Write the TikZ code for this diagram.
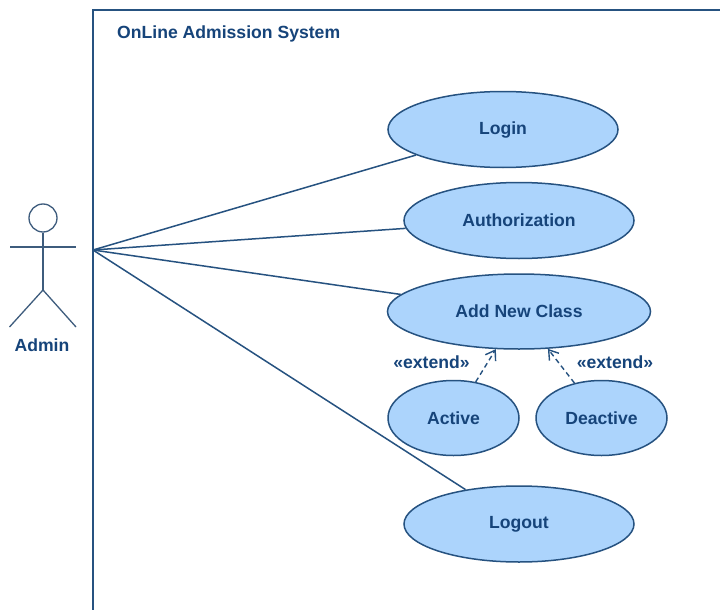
\documentclass[tikz,border=0pt]{standalone}
\usepackage{fontspec}
\setmainfont{Liberation Sans}
\usetikzlibrary{arrows.meta,shapes.geometric}
\definecolor{ln}{RGB}{38,82,128}
\definecolor{fl}{RGB}{172,212,252}
\definecolor{tx}{RGB}{22,68,122}
\definecolor{ac}{RGB}{62,92,125}
\tikzset{x=1pt,y=-1pt,
 usecase/.style={draw=ln,fill=fl,ellipse,line width=1.5pt,inner sep=0pt,text=tx,font=\bfseries\fontsize{17.6}{20}\selectfont},
 lab/.style={text=tx,font=\bfseries\fontsize{17.6}{20}\selectfont,inner sep=0pt},
 assoc/.style={draw=ln,line width=1.5pt},
 frameline/.style={draw=ln,line width=2pt},
 ext/.style={draw=ln,line width=1.4pt,dash pattern=on 5pt off 3.5pt,-{Straight Barb[length=9pt,width=12pt]}},
 actor/.style={draw=ac,line width=1.3pt}}
\begin{document}
\begin{tikzpicture}
\useasboundingbox (0,0) rectangle (720,610);
\fill[white] (0,0) rectangle (720,610);
\coordinate (tl) at (93,610);
\coordinate (tb) at (93,10);
\coordinate (tr) at (720,10);
\draw[frameline] (tl) -- (tb) -- (tr);
\node[lab,anchor=west] (title) at (117,34) {OnLine Admission System};
\coordinate (hub) at (93,250);
\node[usecase,minimum width=230pt,minimum height=76pt] (login) at (503,129.5) {Login};
\node[usecase,minimum width=230pt,minimum height=76pt] (auth) at (519,220.5) {Authorization};
\node[usecase,minimum width=263pt,minimum height=75pt] (add) at (519,311.5) {Add New Class};
\node[usecase,minimum width=131pt,minimum height=75pt] (active) at (453.5,418) {Active};
\node[usecase,minimum width=131pt,minimum height=75pt] (deactive) at (601.5,418) {Deactive};
\node[usecase,minimum width=230pt,minimum height=76pt] (logout) at (519,524) {Logout};
\draw[assoc] (hub) -- (login);
\draw[assoc] (hub) -- (auth);
\draw[assoc] (hub) -- (add);
\draw[assoc] (hub) -- (logout);
\draw[ext] (active) -- (add);
\draw[ext] (deactive) -- (add);
\node[lab] (e1) at (431.5,362.5) {«extend»};
\node[lab] (e2) at (615,362.5) {«extend»};
\node[draw=ac,circle,line width=1.3pt,minimum size=28pt,inner sep=0pt] (head) at (43,218) {};
\coordinate (neck) at (43,290);
\coordinate (al) at (10,247);
\coordinate (ar) at (76,247);
\coordinate (ll) at (9.5,327);
\coordinate (lr) at (76,327);
\draw[actor] (head) -- (neck);
\draw[actor] (al) -- (ar);
\draw[actor] (ll) -- (neck) -- (lr);
\node[lab] (admin) at (42,345) {Admin};
\end{tikzpicture}
\end{document}
